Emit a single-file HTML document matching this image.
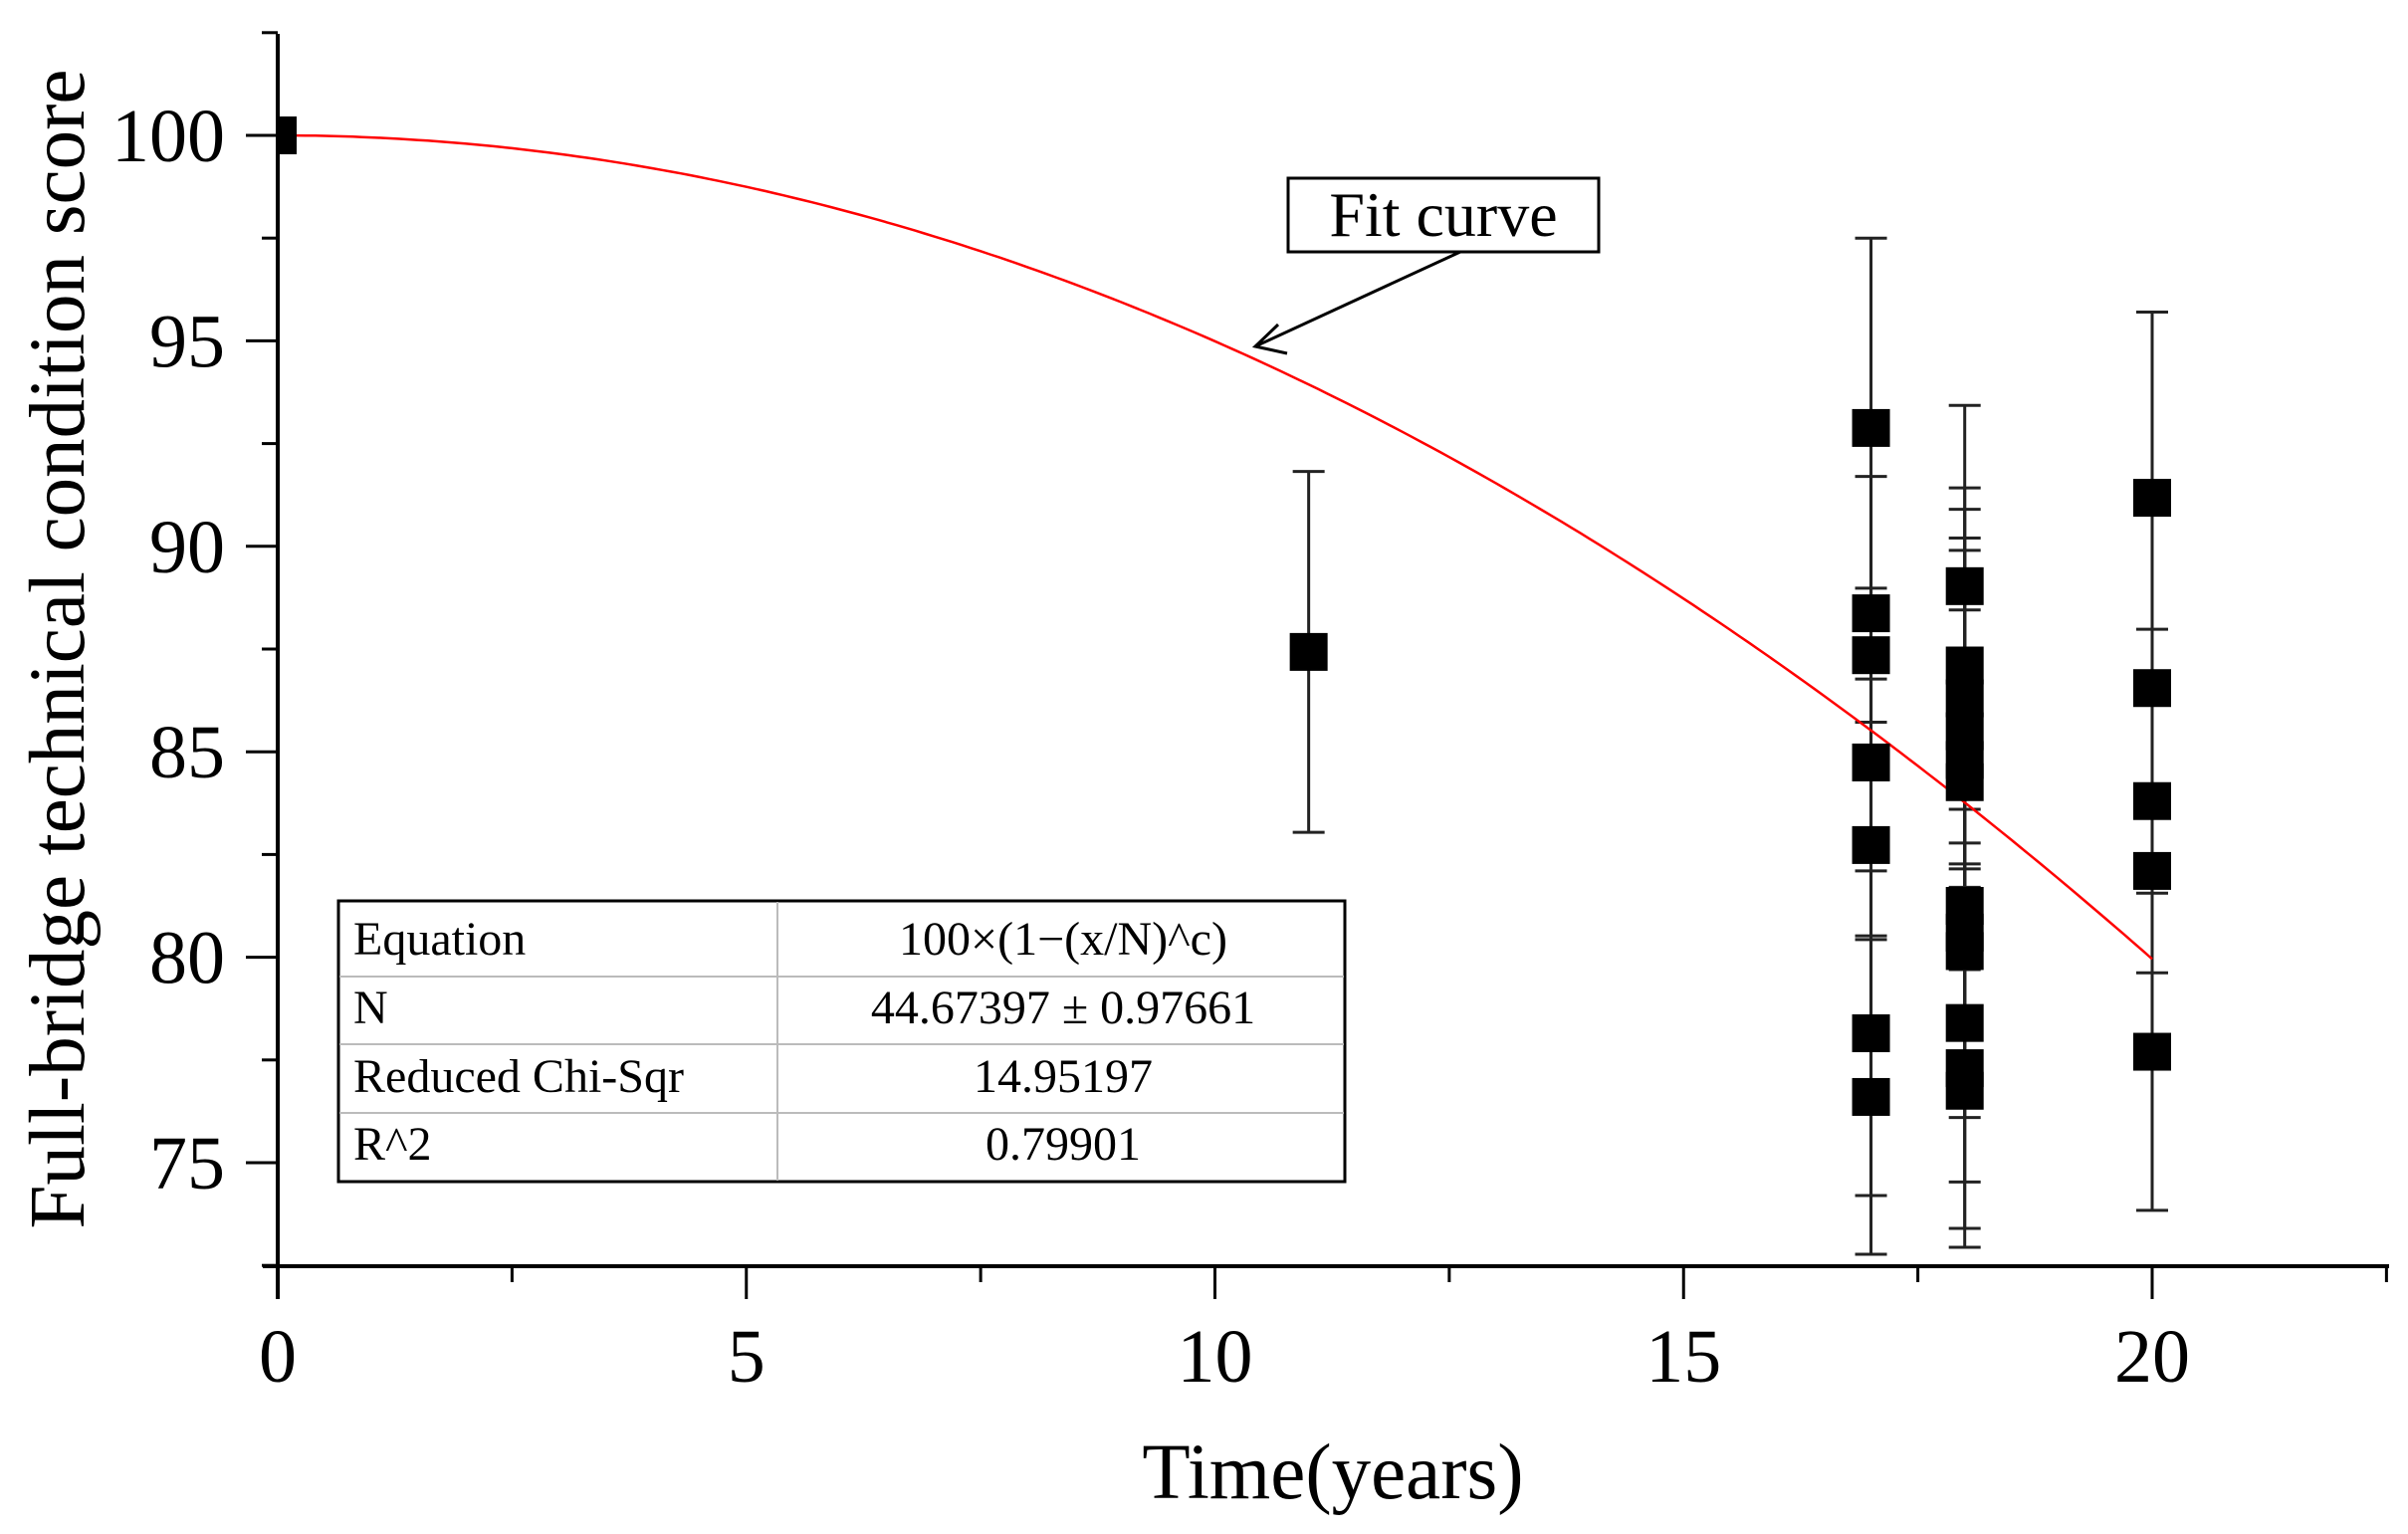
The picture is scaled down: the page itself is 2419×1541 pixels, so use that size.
<!DOCTYPE html>
<html><head><meta charset="utf-8"><style>
html,body{margin:0;padding:0;background:#fff;}
svg{display:block;}
text{font-family:"Liberation Serif",serif;fill:#000;}
</style></head><body>
<svg id="chart" width="2419" height="1541" viewBox="0 0 2419 1541" xmlns="http://www.w3.org/2000/svg">
<defs><clipPath id="plotclip"><rect x="279" y="34" width="2130" height="1238"/></clipPath></defs>
<g id="axes"></g>
<g id="marks" clip-path="url(#plotclip)"></g>
<text x="0" y="0" font-size="79" text-anchor="middle" transform="translate(84,652) rotate(-90)">Full-bridge technical condition score</text>
<text x="1339" y="1505" font-size="79" text-anchor="middle">Time(years)</text>
<g>
<rect x="1294" y="179" width="312" height="74" fill="#fff" stroke="#000" stroke-width="3"/>
<text x="1450" y="237" font-size="64" text-anchor="middle">Fit curve</text>
<line x1="1467" y1="253" x2="1261" y2="348" stroke="#000" stroke-width="3"/>
<polyline points="1284,326 1261,348 1293,355" fill="none" stroke="#000" stroke-width="3"/>
</g>
<g>
<rect x="340" y="905" width="1011" height="282" fill="#fff" stroke="#000" stroke-width="3"/>
<line x1="781" y1="906" x2="781" y2="1186" stroke="#bbb" stroke-width="2"/>
<line x1="341" y1="981" x2="1350" y2="981" stroke="#bbb" stroke-width="2"/>
<line x1="341" y1="1049" x2="1350" y2="1049" stroke="#bbb" stroke-width="2"/>
<line x1="341" y1="1118" x2="1350" y2="1118" stroke="#bbb" stroke-width="2"/>
<text x="355" y="959" font-size="48">Equation</text>
<text x="1068" y="959" font-size="48" text-anchor="middle">100×(1−(x/N)^c)</text>
<text x="355" y="1028" font-size="48">N</text>
<text x="1068" y="1028" font-size="48" text-anchor="middle">44.67397 ± 0.97661</text>
<text x="355" y="1097" font-size="48">Reduced Chi-Sqr</text>
<text x="1068" y="1097" font-size="48" text-anchor="middle">14.95197</text>
<text x="355" y="1165" font-size="48">R^2</text>
<text x="1068" y="1165" font-size="48" text-anchor="middle">0.79901</text>
</g>
</svg>
<script>
const xTicks = [0, 5, 10, 15, 20];
const yTicks = [75, 80, 85, 90, 95, 100];
const pointX = [0, 11, 17,17,17,17,17,17,17, 18,18,18,18,18,18,18,18,18,18,18,18, 20,20,20,20,20];
const pointY = [100, 87.43, 92.88,88.37,87.35,84.74,82.73,78.15,76.6, 89.03,87.1,86.3,85.5,84.8,84.26,81.25,80.6,80.15,78.4,77.3,76.75, 91.18,86.55,83.8,82.1,77.7];
const pointErr = [0, 4.39, 4.62,3.33,1.63,2.03,2.21,3.95,3.83, 4.4,4.32,4.6,4.7,5.1,4.19,5.15,3.0,2.0,3.87,3.9,3.81, 4.52,0.4,4.18,0.4,3.86];
const fitN = [44.67397];
const fitC = [2.0];

const NS = 'http://www.w3.org/2000/svg';
const X0 = 279, XS = 94.15, Y100 = 136, YS = 41.28;
function sx(v){ return X0 + v*XS; }
function sy(v){ return Y100 - (v-100)*YS; }
function mk(tag, attrs, parent){ const e=document.createElementNS(NS,tag); for(const k in attrs) e.setAttribute(k,attrs[k]); parent.appendChild(e); return e; }
const axes = document.getElementById('axes');
const marks = document.getElementById('marks');

let yl = mk('line',{x1:X0,y1:34,x2:X0,y2:1305,stroke:'#000','stroke-width':4},axes);


let xl = mk('line',{x1:264,y1:1272,x2:2400,y2:1272,stroke:'#000','stroke-width':4},axes);



for (let v=72.5; v<=102.6; v+=2.5){
  const major = Math.abs(v%5) < 0.01;
  const t = mk('line',{x1:major?247:263,y1:sy(v),x2:X0,y2:sy(v),stroke:'#000','stroke-width':3},axes);
  
  
}
yTicks.forEach(v=>{
  const t = mk('text',{x:226,y:sy(v)+26,'font-size':76,'text-anchor':'end'},axes);
  t.textContent = v;
  
  
});
for (let v=0; v<=22.6; v+=2.5){
  const major = Math.abs(v%5) < 0.01;
  const t = mk('line',{x1:sx(v),y1:1272,x2:sx(v),y2:major?1305:1288,stroke:'#000','stroke-width':3},axes);
  
  
}
xTicks.forEach(v=>{
  const t = mk('text',{x:sx(v),y:1388,'font-size':76,'text-anchor':'middle'},axes);
  t.textContent = v;
  
  
});

pointX.forEach((x,i)=>{
  const e = pointErr[i];
  if (e <= 0) return;
  const g = mk('g',{},marks);
  
  
  const cx = sx(x), top = sy(pointY[i]+e), bot = sy(pointY[i]-e);
  mk('line',{x1:cx,y1:top,x2:cx,y2:bot,stroke:'#222','stroke-width':3},g);
  mk('line',{x1:cx-16,y1:top,x2:cx+16,y2:top,stroke:'#222','stroke-width':3},g);
  mk('line',{x1:cx-16,y1:bot,x2:cx+16,y2:bot,stroke:'#222','stroke-width':3},g);
});
let d = '';
for (let k=0; k<=200; k++){
  const x = 20*k/200;
  const y = 100*(1-Math.pow(x/fitN[0], fitC[0]));
  d += (k?'L':'M') + sx(x).toFixed(1) + ',' + sy(y).toFixed(1);
}
const fc = mk('path',{d:d,fill:'none',stroke:'#ff0000','stroke-width':2.5},marks);


pointX.forEach((x,i)=>{
  const r = mk('rect',{x:sx(x)-19,y:sy(pointY[i])-19,width:38,height:38,fill:'#000'},marks);
  
  
});
</script>
</body></html>
